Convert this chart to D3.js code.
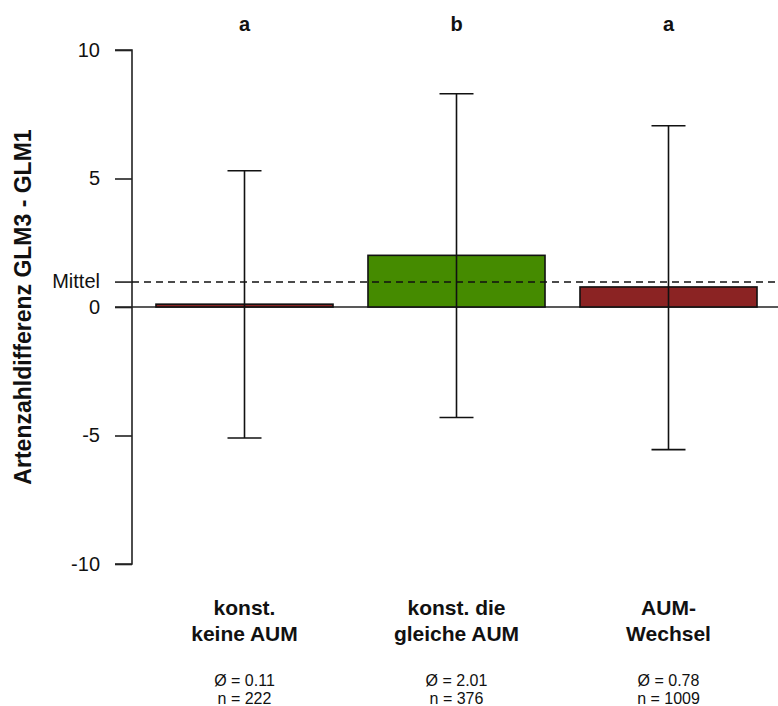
<!DOCTYPE html>
<html>
<head>
<meta charset="utf-8">
<script src="https://cdn.jsdelivr.net/npm/d3@7"></script>
<style>
  body { margin: 0; background: #fff; }
  svg { font-family: "Liberation Sans", Arial, sans-serif; }
</style>
</head>
<body>
<svg id="chart" width="778" height="706"></svg>
<script>
// values
const categories = [["konst.", "keine AUM"], ["konst. die", "gleiche AUM"], ["AUM-", "Wechsel"]];
const means = [0.11, 2.01, 0.78];
const upper = [5.3, 8.3, 7.05];
const lower = [-5.1, -4.3, -5.55];
const letters = ["a", "b", "a"];
const counts = [222, 376, 1009];
const barColors = ["#8B2323", "#458B00", "#8B2323"];
const overallMean = 0.97;
const yTicks = [10, 5, 0, -5, -10];

const svg = d3.select("#chart");
const width = 778;

const y = d3.scaleLinear().domain([-10, 10]).range([564, 50]);
const x = d3.scaleBand().domain(d3.range(means.length))
  .range([138.5, 774.5]).paddingInner(0.165).paddingOuter(0.0825);
const axisX = 132;

/** Y axis
------------------------------------------------------------*/
svg.append("g")
  .attr("transform", `translate(${axisX},0)`)
  .call(d3.axisLeft(y).tickValues(yTicks).tickSize(17).tickPadding(15).tickFormat(d => String(d)))
  .call(g => g.select(".domain").attr("d", `M-17,${y(10)}H0V${y(-10)}H-17`).attr("stroke", "#222").attr("stroke-width", 1.6))
  .call(g => g.selectAll(".tick line").attr("stroke", "#222").attr("stroke-width", 1.6))
  .call(g => g.selectAll(".tick text").attr("font-size", 20).attr("fill", "#111")
    .attr("font-family", "Liberation Sans, Arial, sans-serif"));

// Mittel tick and label
svg.append("line")
  .attr("x1", axisX - 17).attr("x2", axisX)
  .attr("y1", y(overallMean)).attr("y2", y(overallMean))
  .attr("stroke", "#222").attr("stroke-width", 1.6);
svg.append("text")
  .attr("x", axisX - 32).attr("y", y(overallMean))
  .attr("dy", "0.32em").attr("text-anchor", "end")
  .attr("font-size", 20).attr("fill", "#111")
  .text("Mittel");

svg.append("text")
  .attr("transform", `translate(31,${y(0)}) rotate(-90)`)
  .attr("text-anchor", "middle")
  .attr("font-size", 23).attr("font-weight", "bold").attr("fill", "#111")
  .text("Artenzahldifferenz GLM3 - GLM1");

/** Zero line and bars
------------------------------------------------------------*/
svg.append("line")
  .attr("x1", axisX - 17).attr("x2", width)
  .attr("y1", y(0)).attr("y2", y(0))
  .attr("stroke", "#222").attr("stroke-width", 1.6);

svg.append("g")
  .selectAll("rect")
  .data(means)
  .enter().append("rect")
  .attr("x", (d, i) => x(i))
  .attr("width", x.bandwidth())
  .attr("y", d => y(Math.max(0, d)))
  .attr("height", d => Math.abs(y(d) - y(0)))
  .attr("fill", (d, i) => barColors[i])
  .attr("stroke", "#111").attr("stroke-width", 1.6);

// dashed overall mean
svg.append("line")
  .attr("x1", axisX).attr("x2", width)
  .attr("y1", y(overallMean)).attr("y2", y(overallMean))
  .attr("stroke", "#111").attr("stroke-width", 1.6)
  .attr("stroke-dasharray", "7,5");

/** Error bars
------------------------------------------------------------*/
const cap = 17;
const err = svg.append("g").attr("stroke", "#111").attr("stroke-width", 1.6);
means.forEach((m, i) => {
  const cx = x(i) + x.bandwidth() / 2;
  err.append("line").attr("x1", cx).attr("x2", cx).attr("y1", y(upper[i])).attr("y2", y(lower[i]));
  err.append("line").attr("x1", cx - cap).attr("x2", cx + cap).attr("y1", y(upper[i])).attr("y2", y(upper[i]));
  err.append("line").attr("x1", cx - cap).attr("x2", cx + cap).attr("y1", y(lower[i])).attr("y2", y(lower[i]));
});

/** Labels
------------------------------------------------------------*/
const labels = svg.append("g").attr("text-anchor", "middle").attr("fill", "#111");
means.forEach((m, i) => {
  const cx = x(i) + x.bandwidth() / 2;
  labels.append("text").attr("x", cx).attr("y", 31)
    .attr("font-size", 20).attr("font-weight", "bold").text(letters[i]);
  categories[i].forEach((line, j) => {
    labels.append("text").attr("x", cx).attr("y", 615 + j * 26)
      .attr("font-size", 21).attr("font-weight", "bold").text(line);
  });
  labels.append("text").attr("x", cx).attr("y", 686)
    .attr("font-size", 16).text("Ø = " + d3.format(".2f")(m));
  labels.append("text").attr("x", cx).attr("y", 704)
    .attr("font-size", 16).text("n = " + counts[i]);
});
</script>
</body>
</html>
